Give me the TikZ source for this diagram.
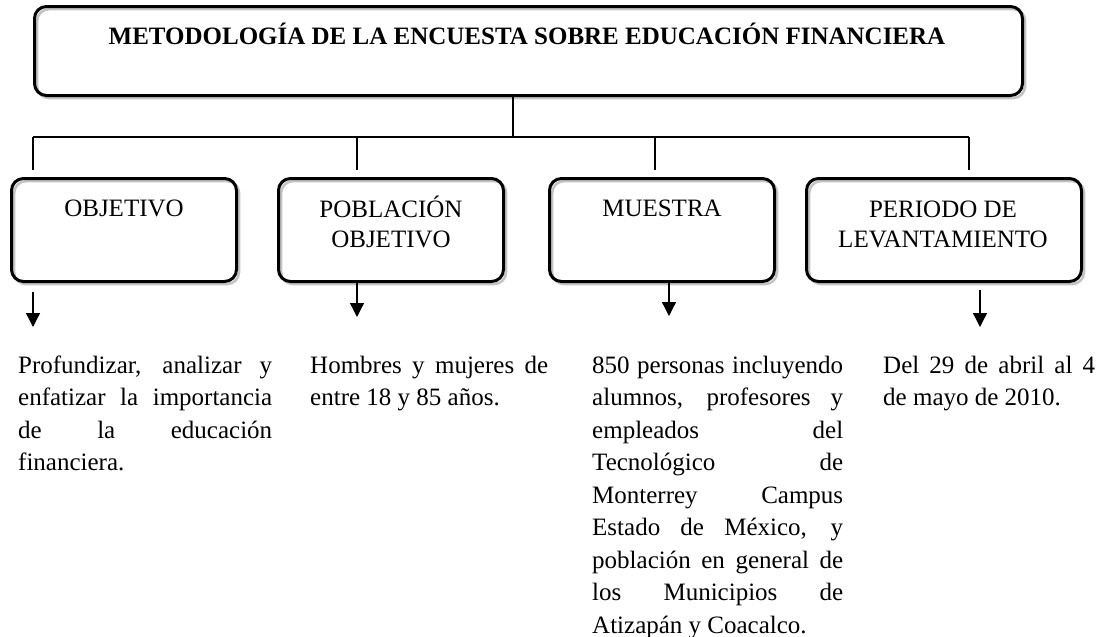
\documentclass[tikz,border=0pt]{standalone}
\usepackage{fontspec}
\setmainfont{Liberation Serif}
\usetikzlibrary{arrows.meta}
\definecolor{shadowgray}{HTML}{C4C4C4}
\newcommand{\jl}[2]{\makebox[#1][s]{#2}}
\tikzset{
  box/.style={rounded corners=12pt, fill=white, draw=none, inner sep=0pt,
    postaction={draw=shadowgray, line width=2.6pt, transform canvas={shift={(2.6pt,-2.6pt)}}},
    postaction={draw=black, line width=3pt}},
  lbl/.style={inner sep=0pt, align=center, font=\fontsize{25}{30}\selectfont},
  body/.style={inner sep=0pt, align=left, font=\fontsize{25}{32.5}\selectfont},
  conn/.style={line width=1.3pt, draw=black},
  arr/.style={line width=1.3pt, draw=black, -{Triangle[width=14pt,length=14pt]}}
}
\begin{document}
\begin{tikzpicture}[x=1pt,y=-1pt]
\useasboundingbox (0,0) rectangle (1104,637);
% title
\node[box, minimum width=988pt, minimum height=89pt] (title) at (528.5,51) {};
\node[inner sep=0pt, anchor=base, font=\fontsize{25}{30}\selectfont\bfseries] (tt) at (527,44) {METODOLOGÍA DE LA ENCUESTA SOBRE EDUCACIÓN FINANCIERA};
% boxes
\node[box, minimum width=225pt, minimum height=103pt] (b1) at (124,230) {};
\node[box, minimum width=225pt, minimum height=103pt] (b2) at (391,230) {};
\node[box, minimum width=225pt, minimum height=103pt] (b3) at (662,230) {};
\node[box, minimum width=275pt, minimum height=103pt] (b4) at (944,230) {};
\node[lbl, anchor=base] (l1) at (124,216.5) {OBJETIVO};
\node[lbl, anchor=base] (l2) at (391,247) {POBLACIÓN\\OBJETIVO};
\node[lbl, anchor=base] (l3) at (662,216.5) {MUESTRA};
\node[lbl, anchor=base] (l4) at (943,247) {PERIODO DE\\LEVANTAMIENTO};
% connectors
\coordinate (hub) at (513,137);
\coordinate (j1) at (33,137);
\coordinate (j2) at (357,137);
\coordinate (j3) at (655,137);
\coordinate (j4) at (969,137);
\coordinate (d1) at (33,170);
\coordinate (d2) at (357,170);
\coordinate (d3) at (655,170);
\coordinate (d4) at (969,170);
\draw[conn] (title.south -| hub) -- (hub);
\draw[conn] (j1) -- (j4);
\draw[conn] (j1) -- (d1);
\draw[conn] (j2) -- (d2);
\draw[conn] (j3) -- (d3);
\draw[conn] (j4) -- (d4);
% arrows
\coordinate (a1s) at (33,292); \coordinate (a1e) at (33,327);
\coordinate (a2e) at (357,317);
\coordinate (a3e) at (669,316);
\coordinate (a4s) at (980,290); \coordinate (a4e) at (980,327);
\draw[arr] (a1s) -- (a1e);
\draw[arr] (b2.south -| a2e) -- (a2e);
\draw[arr] (b3.south -| a3e) -- (a3e);
\draw[arr] (a4s) -- (a4e);
% texts (anchored at the baseline of the last line)
\node[body, anchor=base west] (t1) at (18,470.5) {\jl{254pt}{Profundizar, analizar y}\\\jl{254pt}{enfatizar la importancia}\\\jl{254pt}{de la educación}\\financiera.};
\node[body, anchor=base west] (t2) at (310,405.5) {\jl{238pt}{Hombres y mujeres de}\\entre 18 y 85 años.};
\node[body, anchor=base west] (t3) at (592,633) {\jl{251pt}{850 personas incluyendo}\\\jl{251pt}{alumnos, profesores y}\\\jl{251pt}{empleados del}\\\jl{251pt}{Tecnológico de}\\\jl{251pt}{Monterrey Campus}\\\jl{251pt}{Estado de México, y}\\\jl{251pt}{población en general de}\\\jl{251pt}{los Municipios de}\\Atizapán y Coacalco.};
\node[body, anchor=base west] (t4) at (883,405.5) {\jl{212pt}{Del 29 de abril al 4}\\de mayo de 2010.};
\end{tikzpicture}
\end{document}
